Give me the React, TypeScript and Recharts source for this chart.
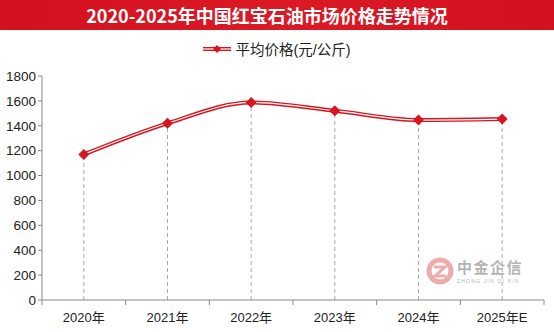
import React from "react";
import { Line, LineChart, ReferenceLine, XAxis, YAxis } from "recharts";

const years = ["2020年", "2021年", "2022年", "2023年", "2024年", "2025年E"];
const prices = [1170, 1420, 1588, 1521, 1446, 1454];
const yTicks = [0, 200, 400, 600, 800, 1000, 1200, 1400, 1600, 1800];

const W = 554;
const H = 332;
const M = { top: 76, right: 10, bottom: 10, left: 2 };
const Y_W = 40;
const BAND = (W - M.left - M.right - Y_W) / years.length;
const RED = "#d7141f";
const FONT = "'Liberation Sans', Arial, 'Noto Sans CJK SC', sans-serif";

const data = years.map((year, i) => ({ year, price: prices[i] }));

// diamond marker, red
function Diamond(props: any) {
  const { cx, cy } = props;
  if (cx == null || cy == null) return null;
  const r = 5.5;
  return (
    <polygon
      points={`${cx},${cy - r} ${cx + r},${cy} ${cx},${cy + r} ${cx - r},${cy}`}
      fill={RED}
    />
  );
}

// category label at the band centre, tick mark at the band edge
function XTick(props: any) {
  const { x, y, payload, index } = props;
  return (
    <g>
      <line x1={x + BAND / 2} y1={y - 8} x2={x + BAND / 2} y2={y - 3} stroke="#888" />
      {index === 0 && <line x1={x - BAND / 2} y1={y - 8} x2={x - BAND / 2} y2={y - 3} stroke="#888" />}
      <text x={x} y={y + 14} textAnchor="middle" fontSize={13} fill="#222" fontFamily={FONT}>
        {payload.value}
      </text>
    </g>
  );
}

function LegendBox() {
  return (
    <div
      style={{
        position: "absolute",
        left: 0,
        top: 38,
        width: W,
        display: "flex",
        justifyContent: "center",
        alignItems: "center",
        fontFamily: FONT,
        fontSize: 14.5,
        color: "#222",
      }}
    >
      <svg width={28} height={10} style={{ marginRight: 4 }}>
        <line x1={0} y1={5} x2={28} y2={5} stroke={RED} strokeWidth={4} />
        <line x1={0} y1={5} x2={28} y2={5} stroke="#fff" strokeWidth={1.2} />
        <polygon points="14,1 18,5 14,9 10,5" fill={RED} />
      </svg>
      <span>平均价格(元/公斤)</span>
    </div>
  );
}

export default function App() {
  return (
    <div style={{ position: "fixed", left: 0, top: 0, width: W, height: H, background: "#fff", overflow: "hidden" }}>
      <div
        style={{
          position: "absolute",
          left: 0,
          top: 0,
          width: W,
          height: 30,
          background: "linear-gradient(90deg, #d3101d 0%, #dc1a26 50%, #d3101d 100%)",
          color: "#fff",
          fontFamily: "'Noto Sans CJK SC', sans-serif",
          fontWeight: 700,
          fontSize: 18,
          lineHeight: "30px",
          textAlign: "center",
          paddingRight: 20,
          boxSizing: "border-box",
        }}
      >
        2020-2025年中国红宝石油市场价格走势情况
      </div>
      <LegendBox />
      <div style={{ position: "absolute", left: 426, top: 257, display: "flex", alignItems: "center", opacity: 0.55 }}>
        <svg width={28} height={28}>
          <circle cx={14} cy={14} r={11} fill="none" stroke="#e06a6a" strokeWidth={5} />
          <path d="M8 10 L19 10 L9 19 L20 19" fill="none" stroke="#e06a6a" strokeWidth={3} />
        </svg>
        <div style={{ marginLeft: 3, fontFamily: "'Noto Sans CJK SC', sans-serif", color: "#777" }}>
          <div style={{ fontSize: 15, fontWeight: 700, lineHeight: "17px", letterSpacing: 1.5 }}>中金企信</div>
          <div style={{ fontSize: 5, lineHeight: "6px", marginTop: 3, letterSpacing: 1.2, fontFamily: FONT }}>ZHONG JIN QI XIN</div>
        </div>
      </div>
      <LineChart width={W} height={H} data={data} margin={M} style={{ position: "absolute", left: 0, top: 0 }}>
        <XAxis
          dataKey="year"
          scale="band"
          stroke="#888"
          tickLine={false}
          tick={<XTick />}
          height={22}
          interval={0}
        />
        <YAxis
          domain={[0, 1800]}
          ticks={yTicks}
          stroke="#888"
          tickSize={4}
          width={Y_W}
          tick={{ fontSize: 13.5, fill: "#222", fontFamily: FONT }}
        />
        {data.map((d) => (
          <ReferenceLine
            key={d.year}
            segment={[
              { x: d.year, y: 0 },
              { x: d.year, y: d.price },
            ]}
            stroke="#aaa"
            strokeDasharray="4 3"
          />
        ))}
        <Line type="monotone" dataKey="price" stroke={RED} strokeWidth={4} dot={false} isAnimationActive={false} />
        <Line
          type="monotone"
          dataKey="price"
          stroke="#fff"
          strokeWidth={1.2}
          dot={<Diamond />}
          activeDot={false}
          isAnimationActive={false}
        />
      </LineChart>
    </div>
  );
}
